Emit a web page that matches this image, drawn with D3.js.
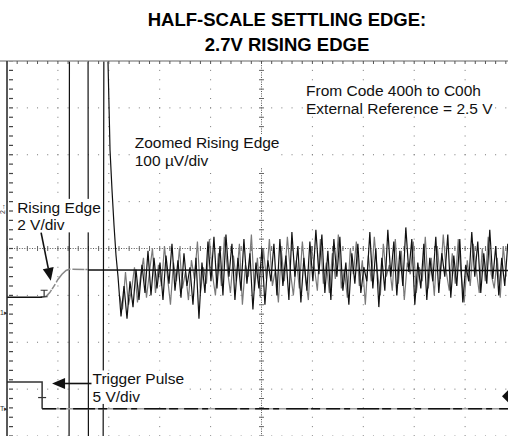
<!DOCTYPE html>
<html><head><meta charset="utf-8">
<script src="https://cdn.jsdelivr.net/npm/d3@7"></script>
<style>html,body{margin:0;padding:0;background:#fff;} svg{display:block;font-family:"Liberation Sans",Arial,sans-serif;}</style>
</head><body><svg id="c" width="508" height="436"></svg>
<script>
// ---------- data (screen units: divisions; zoomed trace in microvolts) ----------
const titleLines = ["HALF-SCALE SETTLING EDGE:", "2.7V RISING EDGE"];
const gridX = [1, 2, 3, 4, 5, 6, 7, 8, 9];
const gridY = [-3, -2, -1, 0, 1, 2, 3, -4];
// rising edge (2 V/div), time in divisions, level in divisions
const riseT = [0, 0.70, 0.77, 0.84, 0.92, 1.00, 1.08, 1.16, 1.24, 1.59];
const riseV = [-1.04, -1.04, -1.02, -0.94, -0.81, -0.66, -0.55, -0.47, -0.44, -0.45];
const settledT = [1.59, 10];
const settledV = [-0.46, -0.47];
// trigger pulse (5 V/div)
const trigT = [0, 0.69, 0.69, 10];
const trigV = [-2.85, -2.85, -3.42, -3.42];
// zoomed rising edge (100 uV/div): off-scale excursions then settling spike
const spikeT = [0.9, 1.218, 1.228, 1.591, 1.601, 1.886, 1.906, 1.974, 1.984, 2.024, 2.063, 2.102, 2.141];
const spikeUV = [-600, -600, 600, 600, -600, -600, 600, 600, 400, 210, 125, 50, -14];
const noiseStartT = 2.181, noiseStepT = 0.0589;
const noiseBlackUV = [-60,-145,-80,-150,-70,-125,-45,-110,-35,-95,-5,-100,-20,-85,-30,-110,-15,-75,10,-90,
 -25,-105,-10,-80,-40,-120,-20,-150,-30,-95,15,-70,25,-85,5,-100,30,-60,10,-110,
 -20,-90,20,-75,-10,-130,-30,-85,0,-120,-25,-70,10,-100,20,-80,-15,-110,35,-60,
 5,-115,-20,-90,15,-70,40,-55,30,-95,-5,-110,20,-60,25,-90,-30,-120,-10,-75,
 10,-95,-40,-70,35,-85,0,-125,-20,-90,40,-60,15,-100,-5,-80,45,-50,20,-120,
 -30,-85,10,-110,-20,-70,25,-95,-10,-60,30,-105,-15,-80,20,-115,-35,-70,35,-60,
 15,-95,-10,-75,40,-65,5,-100,-20,-80,10];
const noiseGreyStartT = 2.210;
const noiseGreyUV = [-100,-130,-50,-120,-90,-40,-115,-60,-20,-105,-50,0,-95,-35,-80,5,-60,-120,-30,-70,
 0,-85,-50,-110,-25,-65,15,-95,-40,-75,20,-55,-100,-10,-80,25,-45,-95,-15,-70,
 10,-120,-35,-60,30,-90,-20,-105,0,-65,20,-80,-45,-115,-5,-70,25,-50,-100,-25,
 -85,15,-60,-110,5,-40,-90,20,-75,-30,-95,-10,-65,30,-85,-45,-105,0,-55,15,
 -80,-25,-120,-15,-70,25,-50,-100,10,-60,-35,-90,20,-75,-5,-110,-30,-55,15,-95,
 -40,-70,25,-85,-20,-100,5,-65,30,-50,-90,-10,-75,20,-60,-115,-25,-80,10,-45,
 -95,0,-70,25,-55,-85,-20,-105,5,-60];
const uvPerDiv = 100;
// annotations: [text lines, anchor t, anchor v]
const labels = [
  {lines: ["From Code 400h to C00h", "External Reference = 2.5 V"], t: 5.875, v: 3.25},
  {lines: ["Zoomed Rising Edge", "100 \u00b5V/div"], t: 2.51, v: 2.14},
  {lines: ["Rising Edge", "2 V/div"], t: 0.20, v: 0.76},
  {lines: ["Trigger Pulse", "5 V/div"], t: 1.68, v: -2.90}
];

// ---------- drawing ----------
const W = 508, H = 436;
const x = d3.scaleLinear().domain([0, 10]).range([7, 516]);
const y = d3.scaleLinear().domain([-4, 4]).range([436, 61]);
const svg = d3.select("#c");

// title
svg.selectAll("text.title").data(titleLines).join("text")
  .attr("class", "title").attr("x", 287).attr("y", (d, i) => 26 + i * 24.5)
  .attr("text-anchor", "middle").attr("font-size", 18.5).attr("font-weight", "bold")
  .attr("fill", "#000").text(d => d);

svg.append("clipPath").attr("id", "clip").append("rect")
  .attr("x", 7).attr("y", 61).attr("width", W - 7).attr("height", H - 61);
const g = svg.append("g").attr("clip-path", "url(#clip)");

// grid dots
const minorY = d3.range(-4, 4.001, 0.2);
const minorX = d3.range(0, 10.001, 0.2);
gridX.forEach(gx => {
  const dense = gx === 5;
  g.selectAll(null).data(dense ? d3.range(-4, 4.001, 0.05) : minorY).join("rect")
    .attr("x", x(gx) - 0.5).attr("y", d => y(d) - 0.5).attr("width", 1).attr("height", 1)
    .attr("fill", dense ? "#555" : "#777");
  if (dense) g.selectAll(null).data(minorY).join("line")
    .attr("x1", x(gx) - 2.5).attr("x2", x(gx) + 2.5).attr("y1", d => y(d)).attr("y2", d => y(d))
    .attr("stroke", "#666").attr("stroke-width", 1);
});
gridY.forEach(gy => {
  const dense = gy === 0;
  g.selectAll(null).data(dense ? d3.range(0, 10.001, 0.05) : minorX).join("rect")
    .attr("x", d => x(d) - 0.5).attr("y", y(gy) - 0.5).attr("width", 1).attr("height", 1)
    .attr("fill", dense ? "#555" : "#777");
  if (dense) g.selectAll(null).data(minorX).join("line")
    .attr("y1", y(gy) - 2.5).attr("y2", y(gy) + 2.5).attr("x1", d => x(d)).attr("x2", d => x(d))
    .attr("stroke", "#666").attr("stroke-width", 1);
});

// borders & edge ticks
svg.append("line").attr("x1", 0).attr("x2", W).attr("y1", 61).attr("y2", 61)
  .attr("stroke", "#999").attr("stroke-width", 1.5);
svg.append("line").attr("x1", 7).attr("x2", 7).attr("y1", 61).attr("y2", H)
  .attr("stroke", "#222").attr("stroke-width", 1.5);
g.selectAll(null).data(minorY).join("line")
  .attr("x1", 9).attr("x2", 13).attr("y1", d => y(d)).attr("y2", d => y(d))
  .attr("stroke", "#444").attr("stroke-width", 1.2);
svg.selectAll(null).data(minorX).join("line")
  .attr("x1", d => x(d)).attr("x2", d => x(d)).attr("y1", 61).attr("y2", 64)
  .attr("stroke", "#555").attr("stroke-width", 1);

const line = d3.line().x(d => x(d[0])).y(d => y(d[1]));

// zoomed rising edge trace
const zoomBlack = spikeT.map((t, i) => [t, spikeUV[i] / uvPerDiv])
  .concat(noiseBlackUV.map((v, i) => [noiseStartT + i * noiseStepT, v / uvPerDiv]));
const zoomGrey = noiseGreyUV.map((v, i) => [noiseGreyStartT + i * noiseStepT, v / uvPerDiv]);
g.append("path").attr("d", line(zoomGrey)).attr("fill", "none")
  .attr("stroke", "#7a7a7a").attr("stroke-width", 1.2);
g.append("path").attr("d", line(zoomBlack)).attr("fill", "none")
  .attr("stroke", "#111").attr("stroke-width", 1.2);

// rising edge
g.append("path").attr("d", line(riseT.slice(0, 2).map((t, i) => [t, riseV[i]])))
  .attr("fill", "none").attr("stroke", "#111").attr("stroke-width", 1.5);
g.append("path").attr("d", line(riseT.slice(1).map((t, i) => [t, riseV[i + 1]])))
  .attr("fill", "none").attr("stroke", "#888").attr("stroke-width", 1.5)
  .attr("stroke-dasharray", "12,1,6,2,20,2");
g.append("path").attr("d", line(settledT.map((t, i) => [t, settledV[i]])))
  .attr("fill", "none").attr("stroke", "#111").attr("stroke-width", 1.5);
// trigger-style "I" marker on rising edge
const mx = x(riseT[1]) + 1.5, my0 = y(riseV[1]), my1 = my0 - 7;
g.append("path").attr("d", `M${mx},${my0}V${my1}M${mx - 3.5},${my1}H${mx + 3.5}M${mx - 3.5},${my0 - 0.5}H${mx + 3.5}`)
  .attr("stroke", "#333").attr("stroke-width", 1.2).attr("fill", "none");

// trigger pulse
g.append("path").attr("d", line(trigT.slice(0, 3).map((t, i) => [t, trigV[i]])))
  .attr("fill", "none").attr("stroke", "#333").attr("stroke-width", 1.5);
g.append("path").attr("d", line(trigT.slice(2).map((t, i) => [t, trigV[i + 2]])))
  .attr("fill", "none").attr("stroke", "#9a9a9a").attr("stroke-width", 1.5);
g.append("path").attr("d", line(trigT.slice(2).map((t, i) => [t, trigV[i + 2]])))
  .attr("fill", "none").attr("stroke", "#111").attr("stroke-width", 1.5)
  .attr("stroke-dasharray", "14,4,6,7,22,3,9,6");
const tx = x(trigT[1]);
g.append("path").attr("d", `M${tx - 4},${y(-3.18)}H${tx + 4}`).attr("stroke", "#333").attr("stroke-width", 1.2);

// right-side marker
svg.append("path").attr("d", `M502,${y(-3.15)}L508,${y(-3.15) - 6}L508,${y(-3.15) + 6}Z`).attr("fill", "#111");

// left channel markers
const mk = svg.append("g").attr("font-size", 7).attr("fill", "#333");
mk.append("text").attr("transform", `translate(5,${y(0.85)}) rotate(-90)`).attr("text-anchor", "middle").text("2\u2192");
mk.append("text").attr("x", 0).attr("y", y(-1.36) + 2.5).text("1\u25B8");
mk.append("text").attr("x", 0).attr("y", y(-3.42) + 2.5).text("T\u25B8");

// labels with white backgrounds
labels.forEach(L => {
  const grp = svg.append("g");
  const bg = grp.append("rect").attr("fill", "#fff");
  const txt = grp.append("text").attr("font-size", 15.5).attr("fill", "#111");
  L.lines.forEach((s, i) => txt.append("tspan").attr("x", x(L.t)).attr("y", y(L.v) + i * 17.5).text(s));
  const b = txt.node().getBBox();
  bg.attr("x", b.x - 1).attr("y", b.y).attr("width", b.width + 2).attr("height", b.height - 1);
});

// arrows
function arrow(x1, y1, x2, y2) {
  const a = Math.atan2(y2 - y1, x2 - x1), L = 13, w = 5.5;
  const bx = x2 - L * Math.cos(a), by = y2 - L * Math.sin(a);
  svg.append("line").attr("x1", x1).attr("y1", y1).attr("x2", bx).attr("y2", by)
    .attr("stroke", "#111").attr("stroke-width", 1.6);
  svg.append("path").attr("fill", "#111").attr("d",
    `M${x2},${y2}L${bx + w * Math.sin(a)},${by - w * Math.cos(a)}L${bx - w * Math.sin(a)},${by + w * Math.cos(a)}Z`);
}
arrow(x(0.67), y(0.34), x(0.86), y(-0.69));
arrow(x(1.66), y(-2.88), x(0.885), y(-2.88));
</script></body></html>
